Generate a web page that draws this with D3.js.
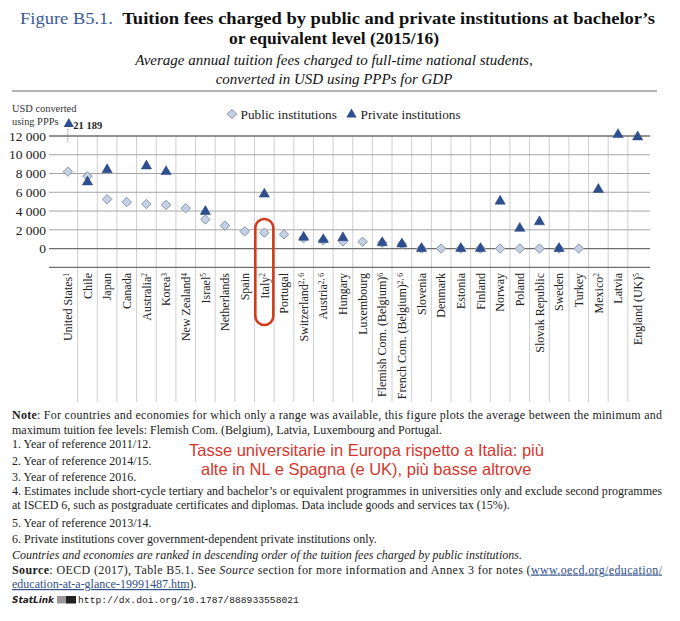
<!DOCTYPE html>
<html><head><meta charset="utf-8">
<script src="https://cdn.jsdelivr.net/npm/d3@7"></script>
<style>
body{margin:0;background:#fff;}
svg{display:block;}
</style></head>
<body>
<svg id="c" width="680" height="621"></svg>
<script>
// ---- data ----
const countries = ["United States","Chile","Japan","Canada","Australia","Korea","New Zealand","Israel","Netherlands","Spain","Italy","Portugal","Switzerland","Austria","Hungary","Luxembourg","Flemish Com. (Belgium)","French Com. (Belgium)","Slovenia","Denmark","Estonia","Finland","Norway","Poland","Slovak Republic","Sweden","Turkey","Mexico","Latvia","England (UK)"];
const footnotes = ["1","","","","2","3","4","5","","","2","","2, 6","2, 6","","","6","2, 6","","","","","","","","","","2","","5"];
const publicFees = [8200,7700,5250,4950,4750,4650,4300,3100,2430,1830,1690,1510,1100,870,750,730,620,480,0,0,0,0,0,0,0,0,0,null,null,null];
const privateFees = [21189,7100,8400,null,8800,8200,null,3950,null,null,5800,null,1200,950,1150,null,620,480,0,null,0,0,5050,2150,2850,0,null,6300,12150,11900];
const yTicks = [-2000,0,2000,4000,6000,8000,10000,12000];
const legendLabels = ["Public institutions","Private institutions"];

const svg = d3.select("#c");
const L = 49, R = 650;
const x = d3.scaleBand().domain(countries).range([58, 647.5]);
const y = d3.scaleLinear().domain([-2000, 12000]).range([267.3, 136]);
const fmt = v => d3.format(",")(v).replace(/,/g, " ");
const serif = "'Liberation Serif', 'Times New Roman', serif";

// ---- title ----
const t1 = svg.append("text").attr("x", 20).attr("y", 24)
  .attr("font-family", serif).attr("font-size", 17.5)
  .attr("textLength", 635).attr("lengthAdjust", "spacingAndGlyphs");
t1.append("tspan").attr("fill", "#3b5a9a").text("Figure B5.1.\u00A0\u00A0");
t1.append("tspan").attr("font-weight", "bold").attr("fill", "#111").text("Tuition fees charged by public and private institutions at bachelor’s");
svg.append("text").attr("x", 334).attr("y", 44).attr("text-anchor", "middle")
  .attr("font-family", serif).attr("font-size", 17.5).attr("font-weight", "bold").attr("fill", "#111")
  .text("or equivalent level (2015/16)");
svg.append("text").attr("x", 334).attr("y", 65).attr("text-anchor", "middle")
  .attr("font-family", serif).attr("font-size", 15).attr("font-style", "italic").attr("fill", "#111")
  .text("Average annual tuition fees charged to full-time national students,");
svg.append("text").attr("x", 334).attr("y", 84).attr("text-anchor", "middle")
  .attr("font-family", serif).attr("font-size", 15).attr("font-style", "italic").attr("fill", "#111")
  .text("converted in USD using PPPs for GDP");
svg.append("line").attr("x1", 12).attr("x2", 657).attr("y1", 91).attr("y2", 91)
  .attr("stroke", "#9a9a9a").attr("stroke-width", 1.5);

// ---- grid ----
const g = svg.append("g");
g.selectAll("line.v").data(countries.slice(1)).join("line").attr("class", "v")
  .attr("x1", d => x(d)).attr("x2", d => x(d))
  .attr("y1", y(12000)).attr("y2", 402)
  .attr("stroke", "#cfcfcf").attr("stroke-width", 1);
g.selectAll("line.h").data(yTicks).join("line").attr("class", "h")
  .attr("x1", L).attr("x2", R).attr("y1", d => y(d)).attr("y2", d => y(d))
  .attr("stroke", d => (d === 0 || d === 12000 || d === -2000) ? "#6e6e6e" : "#a5a5a5")
  .attr("stroke-width", d => (d === 0 || d === 12000 || d === -2000) ? 1.3 : 1);
g.selectAll("text.yt").data(yTicks.filter(d => d >= 0)).join("text").attr("class", "yt")
  .attr("x", 46).attr("y", d => y(d)).attr("dy", "0.35em").attr("text-anchor", "end")
  .attr("font-family", serif).attr("font-size", 13.5).attr("fill", "#222")
  .text(d => fmt(d));
svg.append("text").attr("x", 12).attr("y", 112).attr("font-family", serif).attr("font-size", 10.4).attr("fill", "#333").text("USD converted");
svg.append("text").attr("x", 12).attr("y", 125).attr("font-family", serif).attr("font-size", 10.4).attr("fill", "#333").text("using PPPs");

// ---- x labels ----
const xl = g.selectAll("text.xl").data(countries).join("text").attr("class", "xl")
  .attr("transform", d => `translate(${x(d) + x.bandwidth() / 2},273) rotate(-90)`)
  .attr("dy", "0.35em").attr("text-anchor", "end")
  .attr("font-family", serif).attr("font-size", 12).attr("fill", "#222");
xl.append("tspan").text(d => d);
xl.filter((d, i) => footnotes[i] !== "").append("tspan")
  .attr("font-size", 7.5).attr("dy", "-0.45em").text((d, i) => footnotes[countries.indexOf(d)]);

// ---- Italy highlight ----
const ix = x("Italy");
svg.append("rect").attr("x", ix + 0.8).attr("y", y(3150)).attr("width", x.bandwidth() - 1.6)
  .attr("height", 325 - y(3150)).attr("rx", 9).attr("ry", 9)
  .attr("fill", "none").attr("stroke", "#d13c1d").attr("stroke-width", 2.6);

// ---- markers ----
const diamond = d3.symbol(d3.symbolSquare, 44);
const tri = d3.symbol(d3.symbolTriangle, 46);
const cx = d => x(d) + x.bandwidth() / 2;
const pubData = countries.map((c, i) => ({c, v: publicFees[i]})).filter(d => d.v !== null);
const privData = countries.map((c, i) => ({c, v: privateFees[i]})).filter(d => d.v !== null);
svg.append("g").selectAll("path").data(pubData).join("path")
  .attr("d", diamond).attr("transform", d => `translate(${cx(d.c)},${y(d.v)}) rotate(45)`)
  .attr("fill", "#c4d0e3").attr("stroke", "#8391a8").attr("stroke-width", 0.9);
svg.append("g").selectAll("path").data(privData.filter(d => d.v <= 12500)).join("path")
  .attr("d", tri).attr("transform", d => `translate(${cx(d.c)},${y(d.v)})`)
  .attr("fill", "#2d4f8f").attr("stroke", "#24407a").attr("stroke-width", 0.5);
privData.filter(d => d.v > 12500).forEach(d => {
  const px = cx(d.c);
  svg.append("line").attr("x1", px).attr("x2", px).attr("y1", y(12000) - 7).attr("y2", y(12000) + 7)
    .attr("stroke", "#666").attr("stroke-width", 1).attr("stroke-dasharray", "1,1.3");
  svg.append("path").attr("d", tri).attr("transform", `translate(${px + 1},${y(12000) - 12})`).attr("fill", "#2d4f8f");
  svg.append("text").attr("x", px + 5.5).attr("y", y(12000) - 11).attr("dy", "0.35em")
    .attr("font-family", serif).attr("font-size", 10.5).attr("font-weight", "bold").attr("fill", "#222")
    .text(fmt(d.v));
});

// ---- legend ----
svg.append("path").attr("d", diamond).attr("transform", "translate(232,114) rotate(45)")
  .attr("fill", "#c4d0e3").attr("stroke", "#8391a8").attr("stroke-width", 0.9);
svg.append("text").attr("x", 240.5).attr("y", 118.5).attr("font-family", serif).attr("font-size", 13.3).attr("fill", "#222").text(legendLabels[0]);
svg.append("path").attr("d", tri).attr("transform", "translate(351.5,114.5)").attr("fill", "#2d4f8f");
svg.append("text").attr("x", 360.5).attr("y", 118.5).attr("font-family", serif).attr("font-size", 13.3).attr("fill", "#222").text(legendLabels[1]);

// ---- notes ----
const nf = 12;
function note(yy, parts, len) {
  const t = svg.append("text").attr("x", 12).attr("y", yy).attr("font-family", serif).attr("font-size", nf).attr("fill", "#222");
  if (len) t.attr("textLength", len).attr("lengthAdjust", "spacing");
  parts.forEach(p => {
    const s = t.append("tspan").text(p.t);
    if (p.b) s.attr("font-weight", "bold");
    if (p.i) s.attr("font-style", "italic");
    if (p.u) s.attr("text-decoration", "underline").attr("fill", "#2f4f86");
  });
  return t;
}
note(419, [{t: "Note", b: 1}, {t: ": For countries and economies for which only a range was available, this figure plots the average between the minimum and"}], 650);
note(434, [{t: "maximum tuition fee levels: Flemish Com. (Belgium), Latvia, Luxembourg and Portugal."}]);
note(447.5, [{t: "1. Year of reference 2011/12."}]);
note(464.5, [{t: "2. Year of reference 2014/15."}]);
note(480.5, [{t: "3. Year of reference 2016."}]);
note(494.5, [{t: "4. Estimates include short-cycle tertiary and bachelor’s or equivalent programmes in universities only and exclude second programmes"}], 650);
note(509, [{t: "at ISCED 6, such as postgraduate certificates and diplomas. Data include goods and services tax (15%)."}]);
note(526.5, [{t: "5. Year of reference 2013/14."}]);
note(542.5, [{t: "6. Private institutions cover government-dependent private institutions only."}]);
note(558.5, [{t: "Countries and economies are ranked in descending order of the tuition fees charged by public institutions.", i: 1}]);
note(573.5, [{t: "Source", b: 1}, {t: ": OECD (2017), Table B5.1. See "}, {t: "Source", i: 1}, {t: " section for more information and Annex 3 for notes ("}, {t: "www.oecd.org/education/", u: 1}], 650);
note(588, [{t: "education-at-a-glance-19991487.htm", u: 1}, {t: ")."}]);
// StatLink
svg.append("text").attr("x", 12).attr("y", 603).attr("font-family", "'DejaVu Sans', sans-serif")
  .attr("font-size", 9.5).attr("font-weight", "bold").attr("font-style", "italic").attr("fill", "#222")
  .attr("textLength", 42).attr("lengthAdjust", "spacingAndGlyphs").text("StatLink");
svg.append("rect").attr("x", 57).attr("y", 596).attr("width", 9).attr("height", 7.5).attr("fill", "#999");
svg.append("rect").attr("x", 66).attr("y", 596).attr("width", 10).attr("height", 7.5).attr("fill", "#222");
svg.append("text").attr("x", 78).attr("y", 603).attr("font-family", "'Liberation Mono', monospace")
  .attr("font-size", 9.7).attr("fill", "#222").text("http://dx.doi.org/10.1787/888933558021");

// ---- red annotation ----
svg.append("text").attr("x", 189).attr("y", 456).attr("font-family", "'Liberation Sans', Arial, sans-serif")
  .attr("font-size", 16.5).attr("fill", "#d5372d").text("Tasse universitarie in Europa rispetto a Italia: più");
svg.append("text").attr("x", 201).attr("y", 474.5).attr("font-family", "'Liberation Sans', Arial, sans-serif")
  .attr("font-size", 16.5).attr("fill", "#d5372d").text("alte in NL e Spagna (e UK), più basse altrove");
</script>
</body></html>
